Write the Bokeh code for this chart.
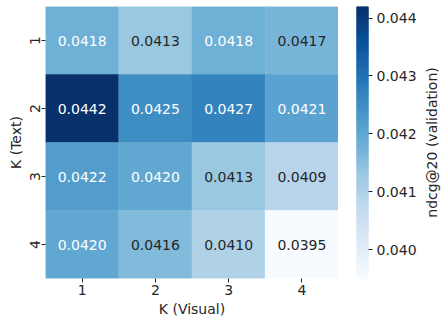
from bokeh.plotting import figure
from bokeh.models import ColumnDataSource, LinearColorMapper, FixedTicker, NumeralTickFormatter, Range1d
from bokeh.layouts import row
from bokeh.palettes import Blues256
from bokeh.core.properties import value
from bokeh.embed import file_html
from bokeh.resources import INLINE

# ---- data ----
k_visual = ["1", "2", "3", "4"]
k_text = ["1", "2", "3", "4"]
row_1 = [0.0418, 0.0413, 0.0418, 0.0417]
row_2 = [0.0442, 0.0425, 0.0427, 0.0421]
row_3 = [0.0422, 0.0420, 0.0413, 0.0409]
row_4 = [0.0420, 0.0416, 0.0410, 0.0395]
cbar_ticks = [0.040, 0.041, 0.042, 0.043, 0.044]
vmin, vmax = 0.0395, 0.0442
label_threshold = 0.04175

rows = [row_1, row_2, row_3, row_4]
palette = list(reversed(Blues256))
mapper = LinearColorMapper(palette=palette, low=vmin, high=vmax)

xs, ys, vals, labels, tcols = [], [], [], [], []
for yk, r in zip(k_text, rows):
    for xk, v in zip(k_visual, r):
        xs.append(xk)
        ys.append(yk)
        vals.append(v)
        labels.append(f"{v:.4f}")
        tcols.append("#ffffff" if v > label_threshold else "#262626")
src = ColumnDataSource(dict(x=xs, y=ys, v=vals, label=labels, tc=tcols))

FONT = "DejaVu Sans"
DARK = "#262626"

p = figure(width=338, height=322, x_range=k_visual, y_range=list(reversed(k_text)),
           output_backend="svg", toolbar_location=None,
           min_border_left=45, min_border_right=0, min_border_top=6, min_border_bottom=44)
p.rect(x="x", y="y", width=1, height=1, source=src,
       fill_color={"field": "v", "transform": mapper},
       line_color={"field": "v", "transform": mapper}, line_width=0.5)
p.text(x="x", y="y", text="label", source=src, text_color="tc",
       text_align="center", text_baseline="middle",
       text_font=value(FONT), text_font_size="14px")

p.grid.visible = False
p.outline_line_color = None
for ax in (p.xaxis[0], p.yaxis[0]):
    ax.axis_line_color = None
    ax.major_tick_line_color = DARK
    ax.major_tick_out = 4
    ax.major_tick_in = 0
    ax.minor_tick_line_color = None
    ax.major_label_text_font = FONT
    ax.major_label_text_font_size = "14px"
    ax.major_label_text_color = DARK
    ax.axis_label_text_font = FONT
    ax.axis_label_text_font_size = "14px"
    ax.axis_label_text_font_style = "normal"
    ax.axis_label_text_color = DARK
    ax.major_label_standoff = 2
    ax.axis_label_standoff = 3
p.xaxis.axis_label = "K (Visual)"
p.yaxis.axis_label = "K (Text)"
p.yaxis.major_label_orientation = "vertical"

# ---- colorbar as its own figure ----
n = len(palette)
step = (vmax - vmin) / n
cb_src = ColumnDataSource(dict(
    bottom=[vmin + i * step for i in range(n)],
    top=[vmin + (i + 1) * step for i in range(n)],
    color=palette,
))
cb = figure(width=81, height=322, x_range=Range1d(0, 1), y_range=Range1d(vmin, vmax),
            output_backend="svg", toolbar_location=None, x_axis_type=None,
            y_axis_location="right",
            min_border_left=18, min_border_right=0, min_border_top=6, min_border_bottom=44)
cb.quad(left=0, right=1, bottom="bottom", top="top", source=cb_src,
        fill_color="color", line_color="color", line_width=1)
cb.grid.visible = False
cb.outline_line_color = None
ya = cb.yaxis[0]
ya.ticker = FixedTicker(ticks=cbar_ticks)
ya.formatter = NumeralTickFormatter(format="0.000")
ya.axis_line_color = None
ya.major_tick_line_color = DARK
ya.major_tick_out = 4
ya.major_tick_in = 0
ya.minor_tick_line_color = None
ya.major_label_text_font = FONT
ya.major_label_text_font_size = "14px"
ya.major_label_text_color = DARK
ya.major_label_standoff = 4

# ---- colorbar title: a left axis label (reads bottom to top) ----
lf = figure(width=24, height=322, x_range=Range1d(0, 1), y_range=Range1d(0, 1),
            output_backend="svg", toolbar_location=None, x_axis_type=None,
            y_axis_location="left",
            min_border_left=20, min_border_right=0, min_border_top=6, min_border_bottom=44)
lf.grid.visible = False
lf.outline_line_color = None
la = lf.yaxis[0]
la.ticker = FixedTicker(ticks=[])
la.axis_line_color = None
la.major_tick_line_color = None
la.minor_tick_line_color = None
la.axis_label = "ndcg@20 (validation)"
la.axis_label_text_font = FONT
la.axis_label_text_font_size = "14px"
la.axis_label_text_font_style = "normal"
la.axis_label_text_color = DARK
la.axis_label_standoff = 0

layout = row(p, cb, lf)
open("out.html", "w").write(file_html(layout, INLINE))
